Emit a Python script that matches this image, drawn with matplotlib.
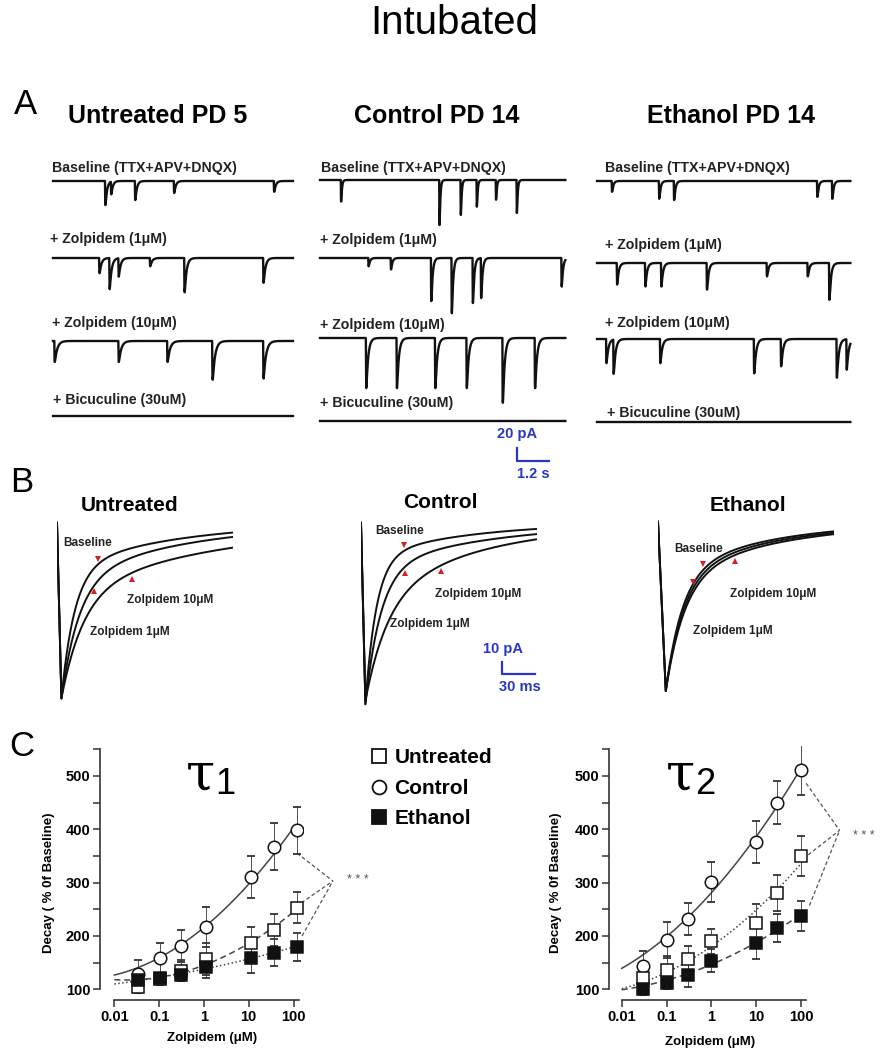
import numpy as np
import matplotlib
matplotlib.use("Agg")
import matplotlib.pyplot as plt
from matplotlib import font_manager
from matplotlib.lines import Line2D

W, H = 882, 1050
names = {f.name for f in font_manager.fontManager.ttflist}
NARROW = 'Liberation Sans Narrow' if 'Liberation Sans Narrow' in names else 'Liberation Sans'
SANS = 'Liberation Sans'
BLUE = '#2a36c4'
RED = '#d42020'
GREY = '#444444'

# ---------------- data: panel A (event times in s, amplitudes in pA) ----------------
row_labels = ["Baseline (TTX+APV+DNQX)", "+ Zolpidem (1\u03bcM)", "+ Zolpidem (10\u03bcM)", "+ Bicuculine (30uM)"]
col_titles_a = ["Untreated PD 5", "Control PD 14", "Ethanol PD 14"]

untreated_t = [[1.95, 2.17, 3.07, 4.53, 8.28], [1.73, 2.11, 2.45, 3.63, 4.92, 7.88],
               [0.05, 2.45, 4.28, 5.97, 7.88], []]
untreated_amp = [[38, 20, 30, 19, 17], [24, 49, 29, 13, 54, 39], [33, 33, 33, 61, 59], []]
control_t = [[0.78, 4.47, 5.27, 5.87, 6.59, 7.37], [1.81, 2.65, 4.16, 4.93, 5.72, 6.03, 9.05],
             [1.72, 2.87, 4.31, 5.49, 6.84, 8.05], []]
control_amp = [[34, 71, 55, 42, 31, 52], [13, 18, 68, 87, 71, 63, 45], [79, 79, 79, 79, 102, 79], []]
ethanol_t = [[0.55, 2.32, 2.88, 8.25, 8.81], [0.74, 1.80, 2.40, 4.11, 6.36, 7.89, 8.70],
             [0.34, 0.61, 2.36, 5.88, 6.89, 8.98, 9.35], []]
ethanol_amp = [[17, 28, 30, 25, 28], [34, 37, 37, 42, 21, 21, 58], [38, 54, 38, 54, 43, 61, 48], []]
decay_a = [[0.06, 0.07, 0.09, 0.1], [0.03, 0.05, 0.07, 0.1], [0.05, 0.06, 0.07, 0.1]]
duration_a = [9.0, 9.2, 9.5]

# ---------------- data: panel B (averaged mIPSC decays, pA / ms) ----------------
col_titles_b = ["Untreated", "Control", "Ethanol"]
b_amp_fast = [[110, 100, 90], [125, 115, 85], [100, 98, 96]]
b_tau_fast = [[12, 16, 20], [10, 14, 20], [15, 16, 17]]
b_amp_slow = [[40, 50, 60], [30, 40, 67], [45, 47, 49]]
b_tau_slow = [[100, 110, 150], [90, 110, 100], [90, 95, 100]]
b_peak_time = [4, 4, 7]
b_mark_time = [[37, 34, 68], [39, 40, 73], [41, 32, 70]]

# ---------------- data: panel C (% of baseline) ----------------
conc1 = [0.033, 0.107, 0.31, 1.12, 11.5, 36, 118]
conc2 = [0.03, 0.1, 0.3, 1, 10, 30, 100]
tau1_control = [128, 159, 181, 217, 310, 367, 398]
tau1_control_err = [27, 28, 30, 38, 39, 44, 44]
tau1_untreated = [105, 119, 135, 156, 187, 211, 253]
tau1_untreated_err = [12, 10, 20, 30, 29, 30, 29]
tau1_ethanol = [117, 121, 127, 141, 159, 169, 180]
tau1_ethanol_err = [12, 10, 12, 20, 28, 25, 26]
tau2_control = [144, 193, 232, 301, 376, 450, 511]
tau2_control_err = [27, 34, 30, 37, 39, 40, 46]
tau2_untreated = [122, 137, 156, 190, 225, 281, 350]
tau2_untreated_err = [15, 25, 26, 23, 34, 34, 37]
tau2_ethanol = [100, 112, 127, 154, 187, 215, 237]
tau2_ethanol_err = [10, 12, 23, 22, 30, 27, 28]
# where each fitted curve starts at 0.01 uM (control, untreated, ethanol)
tau1_fit_start = [128, 119, 110]
tau2_fit_start = [141, 100, 100]

fig = plt.figure(figsize=(W / 100, H / 100), dpi=100)


def px_axes(x, y, w, h):
    return fig.add_axes([x / W, 1 - (y + h) / H, w / W, h / H])


def ftext(x, y, s, **kw):
    kw.setdefault('ha', 'center')
    kw.setdefault('va', 'center')
    fig.text(x / W, 1 - y / H, s, **kw)


# titles and panel letters
ftext(454, 23, "Intubated", family=NARROW, fontsize=29)
ftext(25, 104, "A", family=NARROW, fontsize=25)
ftext(22, 483, "B", family=NARROW, fontsize=25)
ftext(22, 746, "C", family=NARROW, fontsize=25)

# ---------------- panel A ----------------
PX_S = 32 / 1.2      # px per second (scale bar)
PX_PA = 12.7 / 20    # px per pA
col_x = [53, 320, 597]
col_center = [158, 437, 731]
row_y = [[181, 258, 341, 416], [180, 258, 338, 421], [181, 263, 339, 422]]
lab_y = [[168, 239, 323, 400], [168, 240, 325, 403], [168, 245, 323, 413]]
lab_x = [[52, 50, 52, 53], [321, 320, 320, 320], [605, 605, 605, 607]]
all_t = [untreated_t, control_t, ethanol_t]
all_amp = [untreated_amp, control_amp, ethanol_amp]


def event_trace(t, times, amps, tau_d, tau_r=0.006):
    k = np.linspace(0, 5 * tau_d, 400)
    kmax = np.max(np.exp(-k / tau_d) - np.exp(-k / tau_r))
    y = np.zeros_like(t)
    for t0, a in zip(times, amps):
        s = t - t0
        m = s > 0
        y[m] -= a * (np.exp(-s[m] / tau_d) - np.exp(-s[m] / tau_r)) / kmax
    return y


for c in range(3):
    ftext(col_center[c], 116, col_titles_a[c], family=NARROW, fontsize=18, fontweight='bold')
    dur = duration_a[c]
    t = np.linspace(0, dur, 4000)
    for r in range(4):
        ax = px_axes(col_x[c], row_y[c][r] - 8, dur * PX_S, 80)
        ax.set_xlim(0, dur)
        ax.set_ylim(-72 / PX_PA, 8 / PX_PA)
        ax.axis('off')
        y = event_trace(t, all_t[c][r], all_amp[c][r], decay_a[c][r])
        ax.plot(t, y, color='#111111', lw=1.7, clip_on=False)
        ftext(lab_x[c][r], lab_y[c][r], row_labels[r], ha='left', family=SANS,
              fontsize=10.2, fontweight='bold', color='#222222')
        if c == 1 and r == 3:
            # scale bar: 20 pA / 1.2 s
            sx = (517 - col_x[c]) / PX_S
            sy = -(448 - row_y[c][r]) / PX_PA
            ax.plot([sx, sx, sx + 1.2], [sy, sy - 20, sy - 20], color=BLUE, lw=1.6, clip_on=False)
            ax.text(sx, sy + 14 / PX_PA, "20 pA", color=BLUE, fontsize=10.5, fontweight='bold',
                    family=SANS, ha='center', va='center')
            ax.text(sx + 0.6, sy - 20 - 13 / PX_PA, "1.2 s", color=BLUE, fontsize=10.5,
                    fontweight='bold', family=SANS, ha='center', va='center')

# ---------------- panel B ----------------
PX_MS = 33 / 30
PX_PB = 11.7 / 10
b_x = [57, 361, 658]
b_base = [523, 523, 522]
b_title = [(130, 505), (440, 503), (748, 505)]
b_lab = [[(88, 543), (130, 632), (170, 600)],
         [(400, 531), (430, 624), (478, 594)],
         [(699, 549), (733, 631), (773, 594)]]
b_names = ["Baseline", "Zolpidem 1\u03bcM", "Zolpidem 10\u03bcM"]
b_markers = [['v', '^', '^'], ['v', '^', '^'], ['v', 'v', '^']]
tb = np.linspace(0, 160, 1200)

for c in range(3):
    ftext(*b_title[c], col_titles_b[c], family=SANS, fontsize=15, fontweight='bold')
    ax = px_axes(b_x[c], b_base[c] - 12, 160 * PX_MS, 205)
    ax.set_xlim(0, 160)
    ax.set_ylim(-165, 10)
    ax.axis('off')
    tp = b_peak_time[c]
    for k in range(3):
        a1, t1 = b_amp_fast[c][k], b_tau_fast[c][k]
        a2, t2 = b_amp_slow[c][k], b_tau_slow[c][k]
        s = np.clip(tb - tp, 0, None)
        dec = -(a1 * np.exp(-s / t1) + a2 * np.exp(-s / t2))
        y = np.where(tb < tp, -(a1 + a2) * tb / tp, dec)
        ax.plot(tb, y, color='#111111', lw=1.4)
        tm = b_mark_time[c][k]
        sm = tm - tp
        ym = -(a1 * np.exp(-sm / t1) + a2 * np.exp(-sm / t2))
        off = 5 if b_markers[c][k] == 'v' else -5
        ax.plot([tm], [ym + off], marker=b_markers[c][k], color=RED, ms=5, mew=0)
        lx, ly = b_lab[c][k]
        ftext(lx, ly, b_names[k], family=SANS, fontsize=8.5, fontweight='bold', color='#222222')
    if c == 1:
        sx = (502 - b_x[c]) / PX_MS
        sy = -(662 - b_base[c]) / PX_PB
        ax.plot([sx, sx, sx + 30], [sy, sy - 10, sy - 10], color=BLUE, lw=1.6, clip_on=False)
        ax.text(sx + 1, sy + 13 / PX_PB, "10 pA", color=BLUE, fontsize=10.5, fontweight='bold',
                family=SANS, ha='center', va='center')
        ax.text(sx + 16, sy - 10 - 13 / PX_PB, "30 ms", color=BLUE, fontsize=10.5,
                fontweight='bold', family=SANS, ha='center', va='center')

# ---------------- panel C ----------------


def decay_axes(left, xlo, series, starts, styles, label_xy, bracket):
    ax = px_axes(left, 746, 203, 254)
    ax.set_xscale('log')
    ax.set_xlim(xlo, xlo * 10 ** (203 / 44.8))
    ax.set_ylim(80, 556)
    for s in ['top', 'right']:
        ax.spines[s].set_visible(False)
    for s in ['left', 'bottom']:
        ax.spines[s].set_linewidth(1.2)
        ax.spines[s].set_color('#333333')
    ax.spines['left'].set_bounds(100, 550)
    ax.spines['bottom'].set_bounds(0.01, 130)
    ax.set_xticks([0.01, 0.1, 1, 10, 100])
    ax.set_xticklabels(['0.01', '0.1', '1', '10', '100'], fontweight='bold', family=SANS, fontsize=10.5)
    ax.xaxis.set_minor_locator(matplotlib.ticker.NullLocator())
    ax.set_yticks([100, 200, 300, 400, 500])
    ax.set_yticklabels(['100', '200', '300', '400', '500'], fontweight='bold', family=SANS, fontsize=10.5)
    ax.set_yticks([150, 250, 350, 450, 550], minor=True)
    ax.tick_params(which='both', direction='out', length=5, width=1.1, color='#333333', pad=2)
    ax.set_ylabel("Decay ( % 0f Baseline)", fontweight='bold', family=SANS, fontsize=9.5)
    ax.yaxis.set_label_coords(*label_xy[0])
    ax.set_xlabel("Zolpidem (\u03bcM)", fontweight='bold', family=SANS, fontsize=9.5)
    ax.xaxis.set_label_coords(*label_xy[1])
    xs = np.logspace(-2, 2, 200)
    for (x, y, e), y0, (mk, fc, ls) in zip(series, starts, styles):
        fx = np.log10(np.r_[0.01, x])
        fy = np.r_[y0, y]
        coef = np.polyfit(fx, fy, 2, w=np.r_[3.0, np.ones(len(x))])
        ax.plot(xs, np.polyval(coef, np.log10(xs)), color=GREY, lw=1.1, ls=ls, zorder=2)
        ax.errorbar(x, y, yerr=e, fmt='none', ecolor='#333333', elinewidth=0.6,
                    capsize=2.8, capthick=1.3, zorder=3)
        ax.plot(x, y, ls='none', marker=mk, ms=9, mfc=fc, mec='#111111', mew=1.1, zorder=4)
    apex, ends = bracket
    for e in ends:
        ax.plot([e[0], apex[0]], [e[1], apex[1]], ls=(0, (3, 2)), color='#555555', lw=0.9,
                clip_on=False)
    return ax


styles1 = [('o', 'white', '-'), ('s', 'white', (0, (4, 2.5))), ('s', '#111111', (0, (1, 1.6)))]
styles2 = [('o', 'white', '-'), ('s', 'white', (0, (1, 1.6))), ('s', '#111111', (0, (4, 2.5)))]
ax1 = decay_axes(100, 10 ** (-2 - 14.3 / 44.8),
                 [(conc1, tau1_control, tau1_control_err), (conc1, tau1_untreated, tau1_untreated_err),
                  (conc1, tau1_ethanol, tau1_ethanol_err)], tau1_fit_start, styles1,
                 [(-0.22, 0.46), (0.55, -0.125)],
                 ((758, 303), [(120, 355), (150, 262), (155, 200)]))
ax2 = decay_axes(609, 10 ** (-2 - 12.7 / 44.8),
                 [(conc2, tau2_control, tau2_control_err), (conc2, tau2_untreated, tau2_untreated_err),
                  (conc2, tau2_ethanol, tau2_ethanol_err)], tau2_fit_start, styles2,
                 [(-0.23, 0.46), (0.50, -0.14)],
                 ((730, 398), [(131, 486), (146, 352), (155, 257)]))

ftext(358, 880, "* * *", family=SANS, fontsize=9, color='#555555')
ftext(864, 836, "* * *", family=SANS, fontsize=9, color='#555555')

# tau symbols
ftext(200, 775, "\u03c4", family='DejaVu Serif', fontsize=38)
ftext(225, 785, "1", family=SANS, fontsize=26)
ftext(681, 775, "\u03c4", family='DejaVu Serif', fontsize=38)
ftext(705, 785, "2", family=SANS, fontsize=26)

# legend
handles = [Line2D([], [], ls='none', marker='s', ms=10, mfc='white', mec='#111111', mew=1.3),
           Line2D([], [], ls='none', marker='o', ms=10, mfc='white', mec='#111111', mew=1.3),
           Line2D([], [], ls='none', marker='s', ms=10, mfc='#111111', mec='#111111', mew=1.3)]
fig.legend(handles, ["Untreated", "Control", "Ethanol"], loc='upper left',
           bbox_to_anchor=(359 / W, 1 - 738 / H), frameon=False, handlelength=0.9,
           handletextpad=0.3, labelspacing=0.55, borderpad=0,
           prop={'family': SANS, 'weight': 'bold', 'size': 15})

fig.savefig("out.png", dpi=100)
